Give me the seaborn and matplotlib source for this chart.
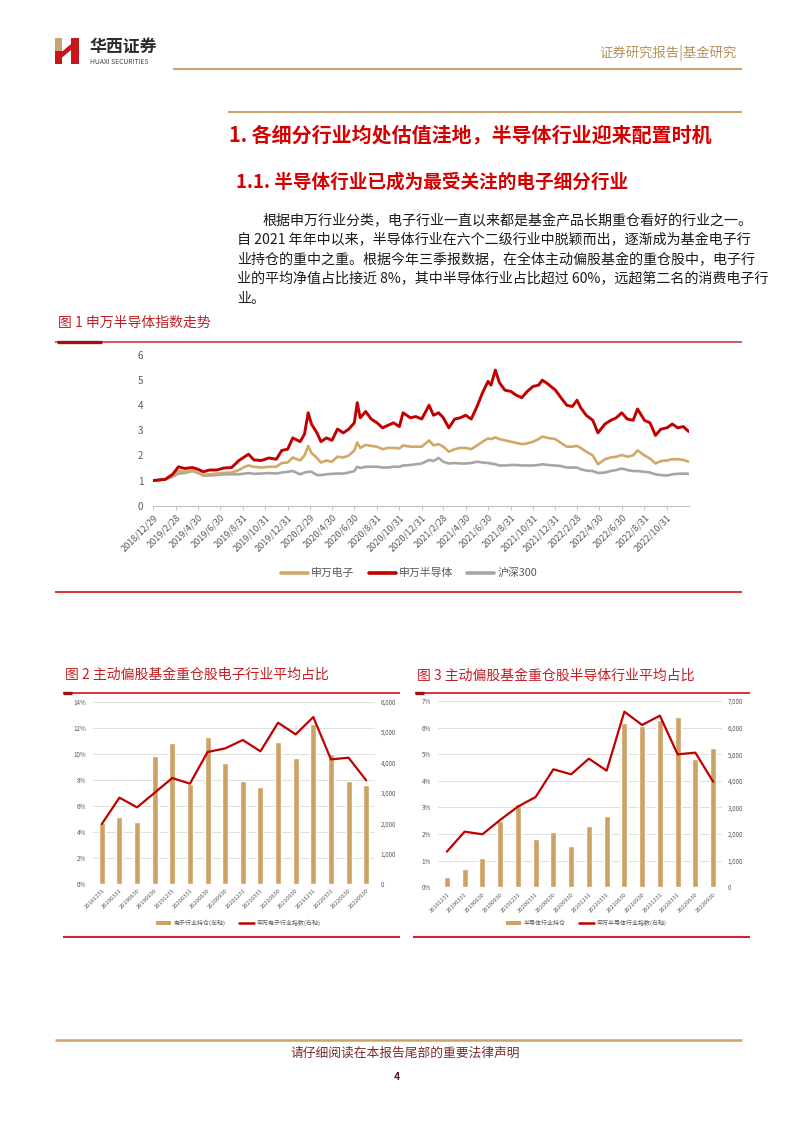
import numpy as np
import pandas as pd
import matplotlib
matplotlib.use("Agg")
import matplotlib.pyplot as plt
from matplotlib.patches import Polygon, Rectangle, Patch
from matplotlib.lines import Line2D
import seaborn as sns

sns.set_theme(style="white")
plt.rcParams['font.family'] = ['Noto Sans CJK SC', 'DejaVu Sans']
plt.rcParams['axes.unicode_minus'] = False

# ---------------- data ----------------
fig1_dates = [
    "2018-12-29", "2019-01-31", "2019-02-20", "2019-03-08", "2019-03-25", "2019-04-15",
    "2019-04-30", "2019-05-15", "2019-05-31", "2019-06-20", "2019-07-10", "2019-07-31",
    "2019-08-20", "2019-09-05", "2019-09-15", "2019-09-30", "2019-10-20", "2019-11-10",
    "2019-11-30", "2019-12-15", "2019-12-31", "2020-01-14", "2020-02-03", "2020-02-15",
    "2020-02-25", "2020-03-05", "2020-03-20", "2020-03-31", "2020-04-15", "2020-04-30",
    "2020-05-15", "2020-05-31", "2020-06-15", "2020-06-30", "2020-07-08", "2020-07-16",
    "2020-07-31", "2020-08-15", "2020-08-31", "2020-09-15", "2020-09-30", "2020-10-15",
    "2020-10-31", "2020-11-10", "2020-11-30", "2020-12-15", "2020-12-31", "2021-01-20",
    "2021-02-01", "2021-02-15", "2021-02-28", "2021-03-15", "2021-03-31", "2021-04-15",
    "2021-04-30", "2021-05-15", "2021-05-31", "2021-06-15", "2021-06-30", "2021-07-08",
    "2021-07-20", "2021-07-31", "2021-08-15", "2021-08-31", "2021-09-15", "2021-09-30",
    "2021-10-15", "2021-10-31", "2021-11-15", "2021-11-25", "2021-12-10", "2021-12-31",
    "2022-01-15", "2022-01-31", "2022-02-15", "2022-02-28", "2022-03-10", "2022-03-25",
    "2022-04-12", "2022-04-26", "2022-05-15", "2022-05-31", "2022-06-15", "2022-06-30",
    "2022-07-15", "2022-07-31", "2022-08-12", "2022-08-31", "2022-09-15", "2022-09-30",
    "2022-10-15", "2022-10-31", "2022-11-15", "2022-11-30", "2022-12-15", "2022-12-30",
]
sw_semis = [
    1.00, 1.05, 1.25, 1.55, 1.48, 1.52, 1.45, 1.35, 1.42, 1.42, 1.50, 1.52,
    1.80, 1.95, 2.05, 1.82, 1.80, 1.90, 1.85, 2.20, 2.25, 2.70, 2.55, 2.85,
    3.70, 3.25, 2.90, 2.55, 2.70, 2.60, 3.05, 2.90, 3.05, 3.30, 4.10, 3.50,
    3.75, 3.45, 3.30, 3.10, 3.20, 3.30, 3.15, 3.70, 3.50, 3.55, 3.45, 4.00,
    3.60, 3.70, 3.50, 3.10, 3.45, 3.50, 3.60, 3.45, 3.95, 4.50, 4.95, 4.80,
    5.40, 4.90, 4.60, 4.55, 4.40, 4.30, 4.55, 4.75, 4.80, 5.00, 4.85, 4.60,
    4.30, 4.00, 3.95, 4.20, 3.90, 3.60, 3.40, 2.90, 3.25, 3.40, 3.50, 3.70,
    3.45, 3.40, 3.85, 3.40, 3.30, 2.80, 3.05, 3.10, 3.25, 3.10, 3.15, 2.95,
]
sw_elec = [
    1.00, 1.05, 1.20, 1.38, 1.35, 1.40, 1.32, 1.22, 1.25, 1.28, 1.30, 1.32,
    1.42, 1.55, 1.60, 1.55, 1.52, 1.55, 1.55, 1.70, 1.72, 1.92, 1.80, 2.00,
    2.38, 2.10, 1.90, 1.72, 1.80, 1.75, 1.95, 1.92, 2.00, 2.20, 2.52, 2.30,
    2.42, 2.38, 2.35, 2.25, 2.30, 2.30, 2.28, 2.40, 2.35, 2.35, 2.35, 2.60,
    2.40, 2.45, 2.35, 2.15, 2.25, 2.30, 2.30, 2.25, 2.40, 2.55, 2.68, 2.65,
    2.72, 2.65, 2.60, 2.55, 2.50, 2.45, 2.48, 2.55, 2.65, 2.75, 2.70, 2.65,
    2.50, 2.35, 2.35, 2.38, 2.30, 2.15, 2.00, 1.65, 1.85, 1.92, 1.95, 2.02,
    1.95, 2.00, 2.20, 2.00, 1.88, 1.68, 1.78, 1.80, 1.85, 1.85, 1.82, 1.75,
]
hs300 = [
    1.00, 1.05, 1.15, 1.28, 1.30, 1.38, 1.30, 1.20, 1.20, 1.22, 1.25, 1.25,
    1.25, 1.28, 1.30, 1.27, 1.28, 1.30, 1.28, 1.32, 1.35, 1.38, 1.25, 1.32,
    1.35, 1.35, 1.22, 1.22, 1.25, 1.27, 1.28, 1.28, 1.32, 1.38, 1.55, 1.50,
    1.55, 1.55, 1.55, 1.52, 1.52, 1.55, 1.55, 1.60, 1.62, 1.65, 1.68, 1.82,
    1.78, 1.90, 1.75, 1.68, 1.70, 1.68, 1.68, 1.70, 1.75, 1.72, 1.70, 1.68,
    1.65, 1.60, 1.60, 1.62, 1.62, 1.60, 1.60, 1.60, 1.62, 1.65, 1.62, 1.60,
    1.58, 1.52, 1.52, 1.52, 1.45, 1.40, 1.38, 1.30, 1.32, 1.38, 1.42, 1.48,
    1.42, 1.38, 1.38, 1.35, 1.32, 1.25, 1.22, 1.20, 1.25, 1.27, 1.28, 1.27,
]
fig1_series = ["申万电子", "申万半导体", "沪深300"]
fig1_tick_labels = [
    "2018/12/29", "2019/2/28", "2019/4/30", "2019/6/30", "2019/8/31", "2019/10/31",
    "2019/12/31", "2020/2/29", "2020/4/30", "2020/6/30", "2020/8/31", "2020/10/31",
    "2020/12/31", "2021/2/28", "2021/4/30", "2021/6/30", "2021/8/31", "2021/10/31",
    "2021/12/31", "2022/2/28", "2022/4/30", "2022/6/30", "2022/8/31", "2022/10/31",
]

quarters = [
    "20181231", "20190331", "20190630", "20190930", "20191231", "20200331",
    "20200630", "20200930", "20201231", "20210331", "20210630", "20210930",
    "20211231", "20220331", "20220630", "20220930",
]
elec_hold = [4.66, 5.14, 4.73, 9.85, 10.80, 7.68, 11.31, 9.32, 7.90, 7.45,
             10.88, 9.65, 12.31, 9.98, 7.93, 7.60]
elec_index = [1974, 2841, 2523, 3005, 3488, 3302, 4344, 4464, 4739, 4366,
              5309, 4925, 5495, 4102, 4157, 3411]
semi_hold = [0.40, 0.69, 1.10, 2.49, 3.13, 1.83, 2.09, 1.55, 2.32, 2.68,
             6.16, 6.05, 6.30, 6.40, 4.83, 5.23]
semi_index = [1340, 2091, 1991, 2529, 3030, 3393, 4433, 4245, 4833, 4383,
              6599, 6098, 6449, 4996, 5059, 3969]
fig2_legend = ["电子行业持仓(左轴)", "申万电子行业指数(右轴)"]
fig3_legend = ["半导体行业持仓", "申万半导体行业指数(右轴)"]

# ---------------- page ----------------
W, H = 802, 1133
fig = plt.figure(figsize=(W / 100, H / 100), dpi=100)
fig.patch.set_facecolor("white")

RED = "#C00000"
TITLE_RED = "#C41E24"
TAN = "#D2A869"
BAR_TAN = "#CBA264"
GREY = "#A6A6A6"
GOLD = "#C9A46C"
TXT = "#595959"


def rect(x0, y0, x1, y1):
    return [x0 / W, 1 - y1 / H, (x1 - x0) / W, (y1 - y0) / H]


bg = fig.add_axes([0, 0, 1, 1])
bg.set_xlim(0, W)
bg.set_ylim(H, 0)
bg.axis("off")


def hline(x0, x1, y, color, lw):
    bg.plot([x0, x1], [y, y], color=color, lw=lw, solid_capstyle="butt")


# header logo
bg.add_patch(Rectangle((55, 38), 6.5, 13, color="#C8A46E", lw=0))
bg.add_patch(Rectangle((55, 51), 6.5, 13, color="#C8161D", lw=0))
bg.add_patch(Rectangle((71, 38), 7.5, 26, color="#C8161D", lw=0))
bg.add_patch(Polygon([(61.5, 52), (71, 44), (71, 50), (61.5, 58)], closed=True, color="#C8161D", lw=0))
bg.text(90, 47, "华西证券", fontsize=12.2, fontweight="bold", color="#2E2A2A", va="center", ha="left")
bg.text(90, 61.5, "HUAXI SECURITIES", fontsize=4.9, color="#444444", va="center", ha="left")
bg.text(737, 53, "证券研究报告|基金研究", fontsize=9.6, color="#B8925A", va="center", ha="right")
hline(173, 742, 69, GOLD, 1.5)
hline(228, 742, 111.5, GOLD, 1.5)

bg.text(229, 135, "1. 各细分行业均处估值洼地，半导体行业迎来配置时机", fontsize=14.4,
        fontweight="bold", color="#D40000", va="center", ha="left")
bg.text(236, 182, "1.1. 半导体行业已成为最受关注的电子细分行业", fontsize=13.4,
        fontweight="bold", color="#D40000", va="center", ha="left")

body = [
    (262, "根据申万行业分类，电子行业一直以来都是基金产品长期重仓看好的行业之一。"),
    (237, "自 2021 年年中以来，半导体行业在六个二级行业中脱颖而出，逐渐成为基金电子行"),
    (237, "业持仓的重中之重。根据今年三季报数据，在全体主动偏股基金的重仓股中，电子行"),
    (237, "业的平均净值占比接近 8%，其中半导体行业占比超过 60%，远超第二名的消费电子行"),
    (237, "业。"),
]
for i, (x, line) in enumerate(body):
    bg.text(x, 221 + i * 19.5, line, fontsize=10.1, color="#1A1A1A", va="center", ha="left")

# figure 1 frame
bg.text(58, 323, "图 1 申万半导体指数走势", fontsize=10, color=TITLE_RED, va="center", ha="left")
hline(55, 742, 341.7, "#D0242A", 1.1)
hline(57, 102, 341.7, "#A01010", 2.4)
hline(55, 742, 592, "#D0242A", 1.3)

# figure 2 / 3 frames
bg.text(65, 675, "图 2 主动偏股基金重仓股电子行业平均占比", fontsize=10, color=TITLE_RED, va="center", ha="left")
hline(63, 400, 693, "#D0242A", 1.3)
hline(63, 72, 693, "#A01010", 2.4)
hline(63, 400, 937, "#D0242A", 1.5)
bg.text(417, 676, "图 3 主动偏股基金重仓股半导体行业平均占比", fontsize=10, color=TITLE_RED, va="center", ha="left")
hline(415, 750, 693, "#D0242A", 1.3)
hline(415, 424, 693, "#A01010", 2.4)
hline(413, 750, 937, "#D0242A", 1.5)

# footer
hline(55, 742, 1040, GOLD, 1.8)
bg.text(405, 1053, "请仔细阅读在本报告尾部的重要法律声明", fontsize=9.2, color="#7B2C2C", va="center", ha="center")
bg.text(397, 1077, "4", fontsize=7.5, fontweight="bold", style="italic", color="#5A1E1E", va="center", ha="center")

# ---------------- chart 1 ----------------
ax1 = fig.add_axes(rect(153.2, 355, 688.8, 505.7))
ax1.set_facecolor("none")
dates = pd.to_datetime(fig1_dates)
df1 = pd.concat([
    pd.DataFrame({"date": dates, "value": vals, "series": name})
    for name, vals in zip(fig1_series, [sw_elec, sw_semis, hs300])
], ignore_index=True)
sns.lineplot(data=df1, x="date", y="value", hue="series", hue_order=fig1_series,
             palette=[TAN, RED, GREY], estimator=None, legend=False, ax=ax1)
for ln, lw, z in zip(ax1.lines, [1.9, 2.1, 1.9], [2, 3, 1]):
    ln.set_linewidth(lw)
    ln.set_zorder(z)
ax1.set_xlim(dates[0], dates[-1])
ax1.set_ylim(0, 6)
ax1.set_yticks(range(0, 7))
ax1.set_xlabel("")
ax1.set_ylabel("")
tick_dates = pd.to_datetime(fig1_tick_labels, format="%Y/%m/%d")
ax1.set_xticks(tick_dates)
ax1.set_xticklabels(fig1_tick_labels, rotation=45, ha="right", rotation_mode="anchor",
                    fontsize=6.6, color=TXT)
for s in ["top", "right", "left"]:
    ax1.spines[s].set_visible(False)
ax1.spines["bottom"].set_color("#BFBFBF")
ax1.spines["bottom"].set_linewidth(0.8)
ax1.tick_params(axis="x", length=3, width=0.6, color="#BFBFBF", direction="out", pad=2, bottom=True)
ax1.tick_params(axis="y", length=0, pad=7, labelsize=7, labelcolor=TXT)
handles1 = [Line2D([], [], color=c, lw=2.6) for c in [TAN, RED, GREY]]
fig.legend(handles1, fig1_series, loc="center", bbox_to_anchor=(409 / W, 1 - 573 / H),
           ncol=3, frameon=False, fontsize=7.8, handlelength=2.5, columnspacing=1.3,
           handletextpad=0.3, labelcolor=TXT)


# ---------------- charts 2 & 3 ----------------
def combo(box, hold, index, lmax, lstep, rmax, rstep, legend_labels, legend_x):
    ax = fig.add_axes(rect(*box))
    ax.set_facecolor("none")
    df = pd.DataFrame({"quarter": quarters, "hold": hold})
    sns.barplot(data=df, x="quarter", y="hold", color=BAR_TAN, saturation=1,
                width=0.34, ax=ax)
    ax.set_ylim(0, lmax)
    lt = np.arange(0, lmax + 0.001, lstep)
    ax.set_yticks(lt)
    ax.set_yticklabels([f"{int(v)}%" for v in lt])
    ax.yaxis.grid(True, color="#D9D9D9", lw=0.6)
    ax.set_axisbelow(True)
    ax.set_xlabel("")
    ax.set_ylabel("")
    ax.set_xticks(range(len(quarters)))
    ax.set_xticklabels(quarters, rotation=45, ha="right", rotation_mode="anchor",
                       fontsize=4.2, color=TXT)
    for s in ax.spines.values():
        s.set_visible(False)
    ax.tick_params(axis="x", length=0, pad=3)
    ax.tick_params(axis="y", length=0, pad=5, labelsize=4.5, labelcolor=TXT)

    ax2 = fig.add_axes(rect(*box))
    ax2.set_facecolor("none")
    pos = np.arange(len(quarters))
    sns.lineplot(x=pos, y=index, color=RED, lw=1.6, ax=ax2)
    ax2.set_xlim(ax.get_xlim())
    ax2.set_ylim(0, rmax)
    rt = np.arange(0, rmax + 1, rstep)
    ax2.set_yticks(rt)
    ax2.set_yticklabels([f"{int(v):,}" for v in rt])
    ax2.yaxis.tick_right()
    ax2.set_xticks([])
    ax2.grid(False)
    for s in ax2.spines.values():
        s.set_visible(False)
    ax2.tick_params(axis="y", length=0, pad=4, labelsize=4.5, labelcolor=TXT)

    handles = [Patch(facecolor=BAR_TAN, edgecolor="none"), Line2D([], [], color=RED, lw=1.8)]
    fig.legend(handles, legend_labels, loc="center", bbox_to_anchor=(legend_x / W, 1 - 923 / H),
               ncol=2, frameon=False, fontsize=4.3, handlelength=2.6, handleheight=0.6,
               columnspacing=2.2, handletextpad=0.4, labelcolor=TXT)


combo((93, 701.7, 375, 884), elec_hold, elec_index, 14, 2, 6000, 1000, fig2_legend, 238)
combo((438, 701, 722, 887.3), semi_hold, semi_index, 7, 1, 7000, 1000, fig3_legend, 586)

fig.savefig("out.png", dpi=100, facecolor="white")
